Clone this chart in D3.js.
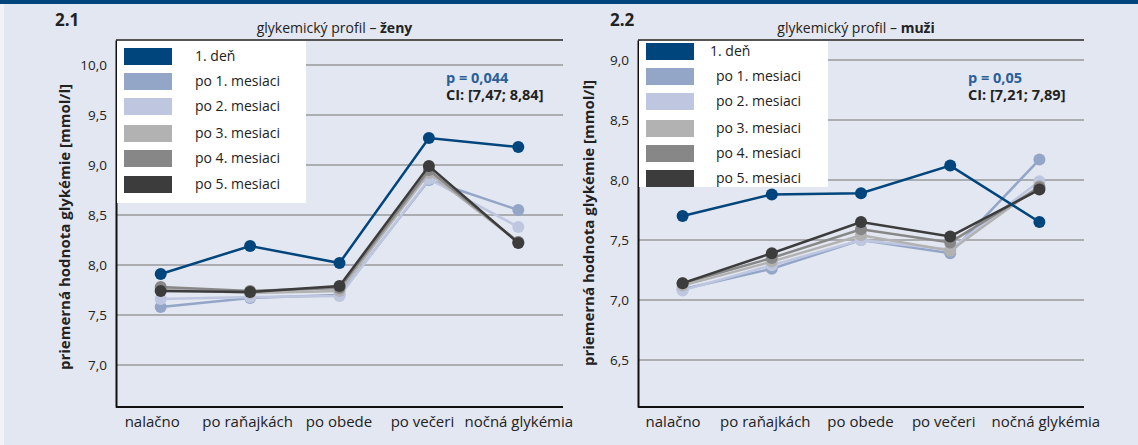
<!DOCTYPE html>
<html>
<head>
<meta charset="utf-8">
<script src="https://cdn.jsdelivr.net/npm/d3@7"></script>
<style>
  body { margin: 0; background: #e3e7f1; }
  text { font-family: "Open Sans", sans-serif; fill: #222; }
</style>
</head>
<body>
<div id="chart"></div>
<script>
// categories + series
var categories = ["nalačno", "po raňajkách", "po obede", "po večeri", "nočná glykémia"];
var seriesNames = ["1. deň", "po 1. mesiaci", "po 2. mesiaci", "po 3. mesiaci", "po 4. mesiaci", "po 5. mesiaci"];
var seriesColors = ["#00457c", "#93a6c8", "#bfc7e0", "#b2b2b2", "#878787", "#3c3c3c"];

// 2.1 zeny
var zeny_den1 = [7.91, 8.19, 8.02, 9.27, 9.18];
var zeny_m1 = [7.58, 7.67, 7.70, 8.85, 8.55];
var zeny_m2 = [7.66, 7.68, 7.69, 8.86, 8.38];
var zeny_m3 = [7.76, 7.72, 7.74, 8.92, 8.23];
var zeny_m4 = [7.78, 7.74, 7.77, 8.95, 8.23];
var zeny_m5 = [7.74, 7.73, 7.79, 8.99, 8.22];
var zenyTicks = [7.0, 7.5, 8.0, 8.5, 9.0, 9.5, 10.0];

// 2.2 muzi
var muzi_den1 = [7.70, 7.88, 7.89, 8.12, 7.65];
var muzi_m1 = [7.09, 7.26, 7.50, 7.39, 8.17];
var muzi_m2 = [7.08, 7.29, 7.50, 7.42, 7.99];
var muzi_m3 = [7.12, 7.32, 7.54, 7.41, 7.95];
var muzi_m4 = [7.14, 7.35, 7.59, 7.48, 7.94];
var muzi_m5 = [7.14, 7.39, 7.65, 7.53, 7.92];
var muziTicks = [6.5, 7.0, 7.5, 8.0, 8.5, 9.0];

var W = 1138, H = 445;

var svg = d3.select("#chart").append("svg")
    .attr("width", W)
    .attr("height", H);

svg.append("rect").attr("width", W).attr("height", H).attr("fill", "#e3e7f1");
svg.append("rect").attr("width", 4).attr("height", H).attr("fill", "#f1f3f8");
svg.append("rect").attr("width", W).attr("height", 4).attr("fill", "#00457c");

var fmt = function(v){ return d3.format(".1f")(v).replace(".", ","); };

function drawPanel(cfg){
    var g = svg.append("g");

    var x = d3.scalePoint()
        .domain(categories)
        .range([cfg.left, cfg.right])
        .padding(0.5);

    var y = d3.scaleLinear()
        .domain(cfg.yDomain)
        .range([407, 40]);

    // number + title
    g.append("text")
        .attr("x", cfg.numX).attr("y", 26)
        .style("font-size", "17px").style("font-weight", "bold")
        .text(cfg.num);

    var title = g.append("text")
        .attr("x", (cfg.left + cfg.right) / 2 - 5).attr("y", 33)
        .attr("text-anchor", "middle")
        .style("font-size", "14px");
    title.append("tspan").text("glykemický profil – ");
    title.append("tspan").style("font-weight", "bold").text(cfg.who);

    // gridlines
    g.selectAll(".grid")
        .data(cfg.ticks)
        .enter().append("line")
        .attr("class", "grid")
        .attr("x1", cfg.left).attr("x2", cfg.right)
        .attr("y1", function(d){ return y(d); })
        .attr("y2", function(d){ return y(d); })
        .attr("stroke", "#9a9a9a")
        .attr("stroke-width", 1.5);

    // top border
    g.append("line")
        .attr("x1", cfg.left).attr("x2", cfg.right)
        .attr("y1", 40).attr("y2", 40)
        .attr("stroke", "#555").attr("stroke-width", 2);

    // y axis
    var yAxis = g.append("g")
        .attr("transform", "translate(" + cfg.left + ",0)")
        .call(d3.axisLeft(y).tickValues(cfg.ticks).tickSize(0).tickPadding(9).tickFormat(fmt));
    yAxis.select(".domain").attr("stroke", "#111").attr("stroke-width", 2);
    yAxis.selectAll("text").attr("fill", "#222").style("font-size", "13.5px");

    // x axis
    var xAxis = g.append("g")
        .attr("transform", "translate(0,407)")
        .call(d3.axisBottom(x).tickSize(0).tickPadding(9));
    xAxis.select(".domain").attr("d", "M" + cfg.left + ",0H" + cfg.right)
        .attr("stroke", "#111").attr("stroke-width", 2);
    xAxis.selectAll("text")
        .attr("fill", "#222")
        .style("font-size", "15px")
        .attr("dx", function(d, i){ return cfg.labelShift[i]; });

    // y title
    g.append("text")
        .attr("transform", "translate(" + cfg.yTitleX + "," + cfg.yTitleY + ") rotate(-90)")
        .attr("text-anchor", "middle")
        .style("font-size", "15px").style("font-weight", "bold")
        .text("priemerná hodnota glykémie [mmol/l]");

    // lines
    var line = d3.line()
        .x(function(d, i){ return x(categories[i]); })
        .y(function(d){ return y(d); });

    var order = [1, 2, 3, 4, 5, 0];
    order.forEach(function(si){
        var vals = cfg.series[si];
        g.append("path")
            .datum(vals)
            .attr("d", line)
            .attr("fill", "none")
            .attr("stroke", seriesColors[si])
            .attr("stroke-width", 2.5);
        g.selectAll(".dot" + si)
            .data(vals)
            .enter().append("circle")
            .attr("class", "dot" + si)
            .attr("cx", function(d, i){ return x(categories[i]); })
            .attr("cy", function(d){ return y(d); })
            .attr("r", 6)
            .attr("fill", seriesColors[si]);
    });

    // legend
    var lg = g.append("g");
    lg.append("rect")
        .attr("x", cfg.left + 1).attr("y", 41)
        .attr("width", cfg.legendW).attr("height", cfg.legendH)
        .attr("fill", "#fff");
    seriesNames.forEach(function(name, i){
        var yy = cfg.legendY[i];
        lg.append("rect")
            .attr("x", cfg.left + 8).attr("y", yy)
            .attr("width", 48).attr("height", 17)
            .attr("fill", seriesColors[i]);
        lg.append("text")
            .attr("x", cfg.left + (i == 0 ? cfg.legendTx0 : cfg.legendTx))
            .attr("y", yy + 8.5).attr("dy", "0.35em")
            .style("font-size", "14px")
            .text(name);
    });

    // stats
    g.append("text")
        .attr("x", cfg.statX).attr("y", 83)
        .style("font-size", "14.5px").style("font-weight", "bold")
        .style("fill", "#2a5f9a")
        .text(cfg.p);
    g.append("text")
        .attr("x", cfg.statX).attr("y", 100)
        .style("font-size", "14.5px").style("font-weight", "bold")
        .text(cfg.ci);
}

drawPanel({
    num: "2.1", numX: 55, who: "ženy",
    left: 116, right: 563,
    yDomain: [6.58, 10.25], ticks: zenyTicks,
    yTitleX: 70, yTitleY: 227,
    labelShift: [-9, -3, -1, -7, 0],
    series: [zeny_den1, zeny_m1, zeny_m2, zeny_m3, zeny_m4, zeny_m5],
    legendW: 189, legendH: 162,
    legendY: [48, 73, 98, 125, 150, 176],
    legendTx0: 79, legendTx: 79,
    statX: 446, p: "p = 0,044", ci: "CI: [7,47; 8,84]"
});

drawPanel({
    num: "2.2", numX: 610, who: "muži",
    left: 638, right: 1084,
    yDomain: [6.108, 9.167], ticks: muziTicks,
    yTitleX: 594, yTitleY: 223,
    labelShift: [-10, -7, -1, -7, 6],
    series: [muzi_den1, muzi_m1, muzi_m2, muzi_m3, muzi_m4, muzi_m5],
    legendW: 189, legendH: 146,
    legendY: [43, 68, 93, 120, 145, 170],
    legendTx0: 72, legendTx: 78,
    statX: 968, p: "p = 0,05", ci: "CI: [7,21; 7,89]"
});
</script>
</body>
</html>
